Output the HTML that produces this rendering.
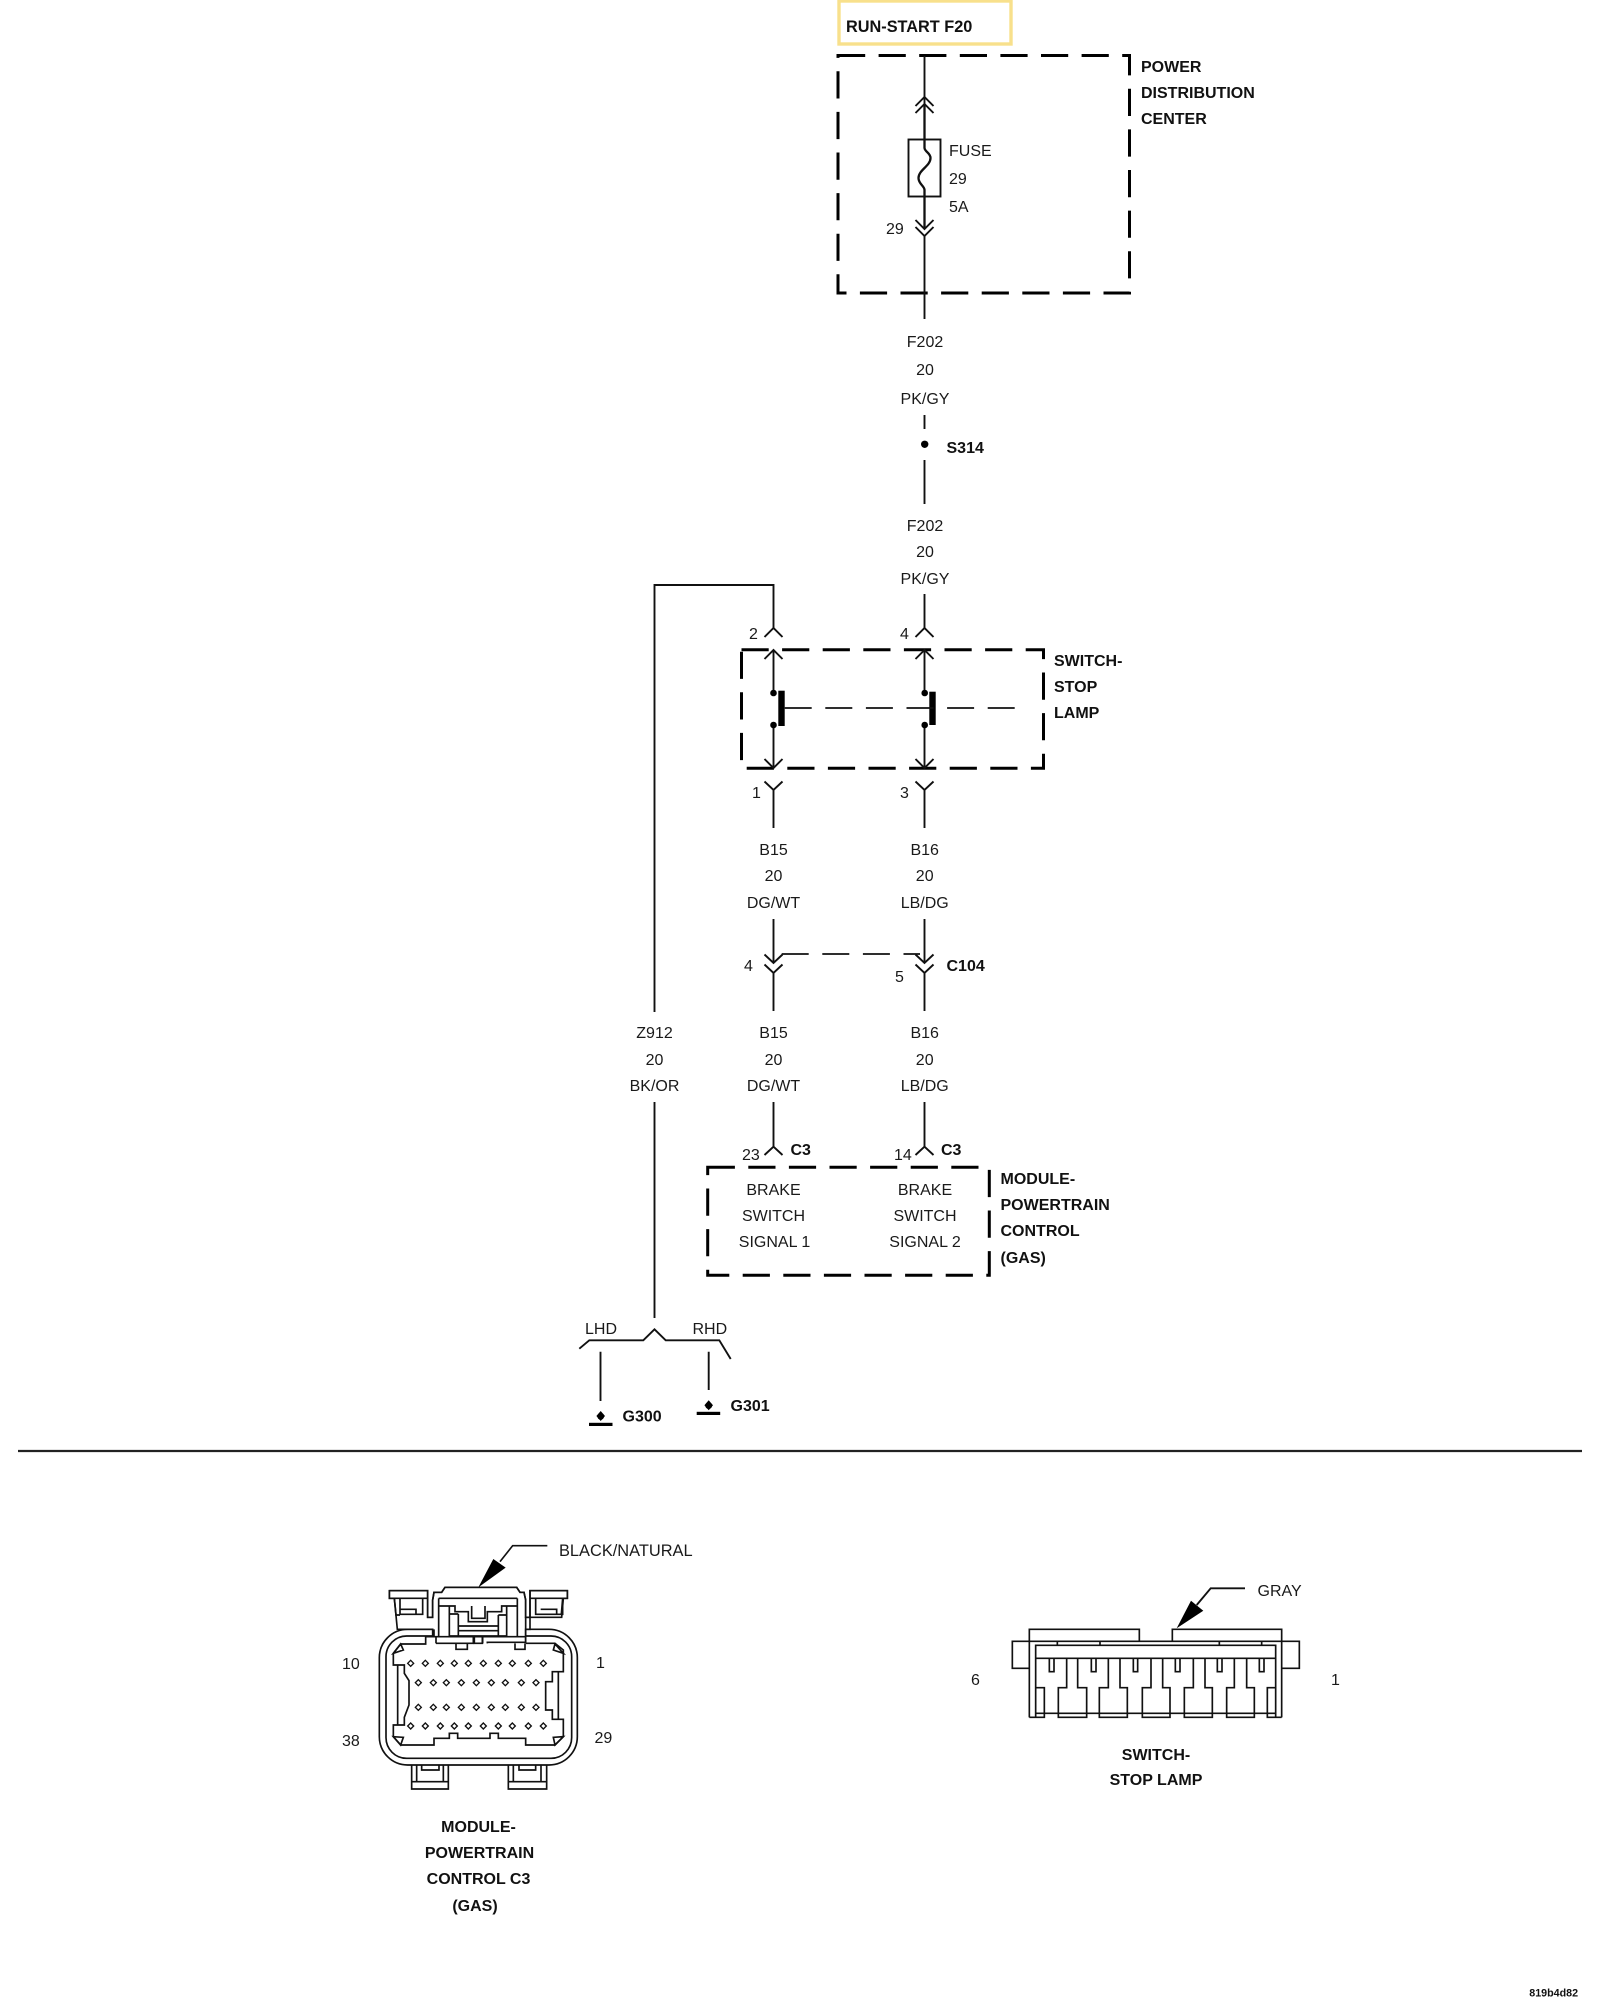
<!DOCTYPE html>
<html>
<head>
<meta charset="utf-8">
<style>
html,body{margin:0;padding:0;background:#fff;}
svg{display:block;}
text{font-family:"Liberation Sans",Arial,sans-serif;font-size:16px;fill:#1a1a1a;}
.b{font-weight:bold;fill:#111;}
.m{text-anchor:middle;}
.w{fill:none;stroke:#111;stroke-width:1.9;}
.h{fill:none;stroke:#111;stroke-width:2.3;}
.d{fill:none;stroke:#000;stroke-width:3;stroke-dasharray:27.2 13.4;}
.t{fill:none;stroke:#111;stroke-width:1.7;stroke-dasharray:27 13.6;}
.c{fill:none;stroke:#111;stroke-width:5;stroke-linejoin:miter;}
.f{fill:#fff;stroke:#111;stroke-width:5;}
</style>
</head>
<body>
<svg width="1600" height="2000" viewBox="0 0 1600 2000" xmlns="http://www.w3.org/2000/svg">
<rect width="1600" height="2000" fill="#fff"/>

<!-- Title -->
<rect x="839" y="1" width="172" height="43" fill="none" stroke="#f8e08c" stroke-width="3.4"/>
<text class="b" x="846" y="32" style="font-size:16.3px">RUN-START F20</text>

<!-- Power distribution center -->
<rect class="d" x="838" y="55.5" width="291.5" height="237.5"/>
<text class="b" x="1141" y="72">POWER</text>
<text class="b" x="1141" y="98">DISTRIBUTION</text>
<text class="b" x="1141" y="124">CENTER</text>
<path class="w" d="M924.5 56V105M924.5 235V319"/>
<path class="h" d="M924.5 105V139M924.5 197V228"/>
<path class="w" stroke-width="2" d="M915.5 106L924.5 97L933.5 106M915.5 113L924.5 104L933.5 113"/>
<path class="w" d="M915.5 220L924.5 229L933.5 220M915.5 227L924.5 236L933.5 227"/>
<rect x="908.5" y="139.5" width="32" height="57" fill="#fff" stroke="#111" stroke-width="1.9"/>
<path class="h" d="M924.5 139.5V148C925 152 930.5 153 930.5 158C930.5 166 918.5 170 918.5 178C918.5 184 924.5 186 924.5 190V197"/>
<text x="949" y="156">FUSE</text>
<text x="949" y="184">29</text>
<text x="949" y="212">5A</text>
<text x="886" y="234">29</text>

<!-- F202 upper -->
<text class="m" x="925" y="347">F202</text>
<text class="m" x="925" y="375">20</text>
<text class="m" x="925" y="404">PK/GY</text>
<path class="w" d="M924.5 415V429M924.5 460V504"/>
<circle cx="924.7" cy="444.3" r="3.7" fill="#000"/>
<text class="b" x="946.5" y="453">S314</text>
<text class="m" x="925" y="531">F202</text>
<text class="m" x="925" y="557">20</text>
<text class="m" x="925" y="584">PK/GY</text>

<!-- Z912 wire -->
<path class="w" d="M654.5 1012V585H773.5V628"/>
<path class="w" d="M924.5 594V628"/>
<path class="w" d="M764.5 637L773.5 628L782.5 637M915.5 637L924.5 628L933.5 637"/>
<text x="749" y="639">2</text>
<text x="900" y="639">4</text>

<!-- Switch box -->
<rect class="d" x="741.5" y="649.7" width="302" height="118.6"/>
<text class="b" x="1054" y="666">SWITCH-</text>
<text class="b" x="1054" y="692">STOP</text>
<text class="b" x="1054" y="718">LAMP</text>
<path class="w" d="M773.5 650V693M773.5 725V768M924.5 650V693M924.5 725V768"/>
<path class="w" d="M764.5 659L773.5 650L782.5 659M915.5 659L924.5 650L933.5 659M764.5 759L773.5 768L782.5 759M915.5 759L924.5 768L933.5 759"/>
<circle cx="773.5" cy="693" r="3.3" fill="#000"/>
<circle cx="773.5" cy="725" r="3.3" fill="#000"/>
<circle cx="924.7" cy="693" r="3.3" fill="#000"/>
<circle cx="924.7" cy="725" r="3.3" fill="#000"/>
<rect x="778.3" y="690.7" width="6.4" height="35.3" fill="#000"/>
<rect x="929.3" y="691.7" width="6.4" height="33.3" fill="#000"/>
<path class="t" d="M784.7 708H1015"/>
<path class="w" d="M764.5 781.5L773.5 790L782.5 781.5M915.5 781.5L924.5 790L933.5 781.5M773.5 790V828M924.5 790V828"/>
<text x="752" y="798">1</text>
<text x="900" y="798">3</text>

<!-- B15 / B16 upper -->
<text class="m" x="773.5" y="855">B15</text>
<text class="m" x="773.5" y="881">20</text>
<text class="m" x="773.5" y="908">DG/WT</text>
<text class="m" x="924.7" y="855">B16</text>
<text class="m" x="924.7" y="881">20</text>
<text class="m" x="924.7" y="908">LB/DG</text>
<path class="w" d="M773.5 919V963M924.5 919V963"/>
<path class="w" d="M764.5 954.5L773.5 963L782.5 954.5M915.5 954.5L924.5 963L933.5 954.5M764.5 964.5L773.5 973L782.5 964.5M915.5 964.5L924.5 973L933.5 964.5M773.5 973V1011M924.5 973V1011"/>
<path class="t" d="M781.7 954H920"/>
<text x="744" y="971">4</text>
<text x="895" y="982">5</text>
<text class="b" x="946.5" y="971">C104</text>

<!-- B15 / B16 lower -->
<text class="m" x="773.5" y="1038">B15</text>
<text class="m" x="773.5" y="1065">20</text>
<text class="m" x="773.5" y="1091">DG/WT</text>
<text class="m" x="924.7" y="1038">B16</text>
<text class="m" x="924.7" y="1065">20</text>
<text class="m" x="924.7" y="1091">LB/DG</text>
<text class="m" x="654.5" y="1038">Z912</text>
<text class="m" x="654.5" y="1065">20</text>
<text class="m" x="654.5" y="1091">BK/OR</text>
<path class="w" d="M773.5 1102V1146.7M924.5 1102V1146.7M764.5 1155L773.5 1146.7L782.5 1155M915.5 1155L924.5 1146.7L933.5 1155"/>
<text x="742" y="1160">23</text>
<text x="894" y="1160">14</text>
<text class="b" x="790.5" y="1155">C3</text>
<text class="b" x="941" y="1155">C3</text>

<!-- Module box -->
<rect class="d" x="707.7" y="1167.3" width="281.6" height="108"/>
<text class="m" x="773.5" y="1195">BRAKE</text>
<text class="m" x="773.5" y="1221">SWITCH</text>
<text class="m" x="774.5" y="1247">SIGNAL 1</text>
<text class="m" x="925" y="1195">BRAKE</text>
<text class="m" x="925" y="1221">SWITCH</text>
<text class="m" x="925" y="1247">SIGNAL 2</text>
<text class="b" x="1000.5" y="1184">MODULE-</text>
<text class="b" x="1000.5" y="1210">POWERTRAIN</text>
<text class="b" x="1000.5" y="1236">CONTROL</text>
<text class="b" x="1000.5" y="1263">(GAS)</text>

<!-- Grounds -->
<path class="w" d="M654.5 1102V1318"/>
<path class="w" d="M579.3 1348.7L589.3 1340.3H643.3L654.5 1329.3L665.7 1340.3H719.3L730.7 1359"/>
<text x="585" y="1334">LHD</text>
<text x="692.5" y="1334">RHD</text>
<path class="w" d="M600.5 1351.7V1401M708.7 1351.7V1390"/>
<path d="M600.7 1411L605 1416L600.7 1421L596.4 1416Z" fill="#000"/>
<circle cx="600.7" cy="1416.3" r="3.4" fill="#000"/>
<path d="M708.7 1400.3L713 1405.3L708.7 1410.3L704.4 1405.3Z" fill="#000"/>
<circle cx="708.7" cy="1405.6" r="3.4" fill="#000"/>
<rect x="589" y="1422.8" width="23.5" height="3.2" fill="#000"/>
<rect x="696.7" y="1411.8" width="23.5" height="3.2" fill="#000"/>
<text class="b" x="622.5" y="1421.5">G300</text>
<text class="b" x="730.5" y="1411">G301</text>

<!-- Divider -->
<path d="M18 1451H1582" stroke="#222" stroke-width="2.2" fill="none"/>

<!-- Connector 1: lower part in zoomed coordinates -->
<g transform="translate(360,1640) scale(0.33333)">
  <rect class="f" x="58" y="-32" width="594" height="407" rx="85" ry="85"/>
  <rect class="c" x="78" y="-12" width="557" height="367" rx="62" ry="62"/>
  <path class="c" d="M100 40V75H133V100L147 122V195L133 232V255H100V290L122 315H222V295H268V280H293V295H390V280H415V295H497V315H585L610 290V238H577V210H557V125H577V95H610V30L585 10H497M382 10V7H497V-32M228 10V-10H197V12H122L100 40M228 10H340V-10M368 -10V10M228 -10H340M368 -10H497"/>
  <path class="c" d="M113 75V255M595 95V238M122 12L100 40L130 30ZM585 12L610 40L580 30ZM100 290L122 315L130 292ZM610 290L585 315L580 292Z"/>
  <path class="c" d="M288 10V28H322V10M343 -8V10H367V-8M465 10V28H495V10"/>
  <g fill="#fff" stroke="#111" stroke-width="4">
    <path d="M152 61L161 70L152 79L143 70Z"/><path d="M196 61L205 70L196 79L187 70Z"/><path d="M241 61L250 70L241 79L232 70Z"/><path d="M283 61L292 70L283 79L274 70Z"/><path d="M325 61L334 70L325 79L316 70Z"/><path d="M370 61L379 70L370 79L361 70Z"/><path d="M415 61L424 70L415 79L406 70Z"/><path d="M457 61L466 70L457 79L448 70Z"/><path d="M505 61L514 70L505 79L496 70Z"/><path d="M550 61L559 70L550 79L541 70Z"/>
    <path d="M175 119L184 128L175 137L166 128Z"/><path d="M220 119L229 128L220 137L211 128Z"/><path d="M259 119L268 128L259 137L250 128Z"/><path d="M304 119L313 128L304 137L295 128Z"/><path d="M349 119L358 128L349 137L340 128Z"/><path d="M394 119L403 128L394 137L385 128Z"/><path d="M436 119L445 128L436 137L427 128Z"/><path d="M484 119L493 128L484 137L475 128Z"/><path d="M528 119L537 128L528 137L519 128Z"/>
    <path d="M175 193L184 202L175 211L166 202Z"/><path d="M220 193L229 202L220 211L211 202Z"/><path d="M259 193L268 202L259 211L250 202Z"/><path d="M304 193L313 202L304 211L295 202Z"/><path d="M349 193L358 202L349 211L340 202Z"/><path d="M394 193L403 202L394 211L385 202Z"/><path d="M436 193L445 202L436 211L427 202Z"/><path d="M484 193L493 202L484 211L475 202Z"/><path d="M528 193L537 202L528 211L519 202Z"/>
    <path d="M152 249L161 258L152 267L143 258Z"/><path d="M196 249L205 258L196 267L187 258Z"/><path d="M241 249L250 258L241 267L232 258Z"/><path d="M283 249L292 258L283 267L274 258Z"/><path d="M325 249L334 258L325 267L316 258Z"/><path d="M370 249L379 258L370 267L361 258Z"/><path d="M415 249L424 258L415 267L406 258Z"/><path d="M457 249L466 258L457 267L448 258Z"/><path d="M505 249L514 258L505 267L496 258Z"/><path d="M550 249L559 258L550 267L541 258Z"/>
  </g>
  <path class="c" d="M155 375V447H265V375M155 425H265M170 375V425M250 375V425M185 375V390H237V375"/>
  <path class="c" d="M445 375V447H560V375M445 425H560M460 375V425M543 375V425M477 375V390H527V375"/>
</g>
<!-- Connector 1: upper part -->
<g transform="translate(360,1530) scale(0.33333)">
  <path class="f" d="M88 182H203V262H218V210L222 187H245L255 172H470L480 187H492L497 210V262H510V182H622V205H610L605 262H510V298H497V320H218V298H112L103 205H88Z" stroke="none"/>
  <path class="c" d="M88 182H203V262H218V210L222 187H245L255 172H470L480 187H492L497 210V262H510V182H622V205H510M88 182V205H203M103 205L108 255H120M608 205L604 253M120 205V253H188V205M120 238H168V253M527 205V253H608V205M542 238H590V253"/>
  <path class="c" d="M236 205H472M236 205V320M472 205V320M236 228H285V245H325V275H382V245H425V228H472M335 228V265H375V228M268 228V318M295 252V318M268 252H295M415 255V318M440 228V318M415 255H440M295 288H415M295 302H415M268 318H440M222 298V320M497 262V337"/>
  <path fill="#000" d="M355 172L400 87L437 113Z"/>
  <path class="c" d="M420 95L458 47H562"/>
</g>
<text x="559" y="1556" style="font-size:16.4px">BLACK/NATURAL</text>
<text x="342" y="1669">10</text>
<text x="596" y="1668">1</text>
<text x="342" y="1746">38</text>
<text x="594.5" y="1743">29</text>
<text class="b m" x="478.5" y="1832">MODULE-</text>
<text class="b m" x="479.5" y="1858">POWERTRAIN</text>
<text class="b m" x="478.5" y="1884">CONTROL C3</text>
<text class="b m" x="475" y="1911">(GAS)</text>

<!-- Connector 2 -->
<g transform="translate(1000,1600) scale(0.33333)">
  <path class="c" d="M88 352V88H418V124M517 124V88H845V352M88 124H37V205H88M845 124H898V205H845M88 124H845M172 124V136M300 124V136M658 124V136M785 124V136M107 136H827V175H107ZM107 175V352M827 175V352M107 340H827"/>
  <path class="c" d="M200 175V263H175V352H260V263H233V175M325 175V263H298V352H382V263H360V175M453 175V263H427V352H510V263H488V175M580 175V263H553V352H637V263H615V175M703 175V263H680V352H763V263H740V175M107 263H133V352H88M827 263H802V352H845"/>
  <path class="c" d="M148 175V215H162V175M274 175V215H288V175M400 175V215H413V175M526 175V215H540V175M652 175V215H666V175M778 175V215H792V175"/>
</g>
<path fill="#000" d="M1176.7 1628.3L1191 1600.7L1203.3 1610.7Z"/>
<path class="w" d="M1196.7 1605L1210.7 1588.3H1245"/>
<text x="1257.5" y="1596">GRAY</text>
<text x="971" y="1685">6</text>
<text x="1331" y="1685">1</text>
<text class="b m" x="1156" y="1760">SWITCH-</text>
<text class="b m" x="1156" y="1785">STOP LAMP</text>

<text class="b" x="1529.3" y="1996.5" style="font-size:10.7px">819b4d82</text>
</svg>
</body>
</html>
